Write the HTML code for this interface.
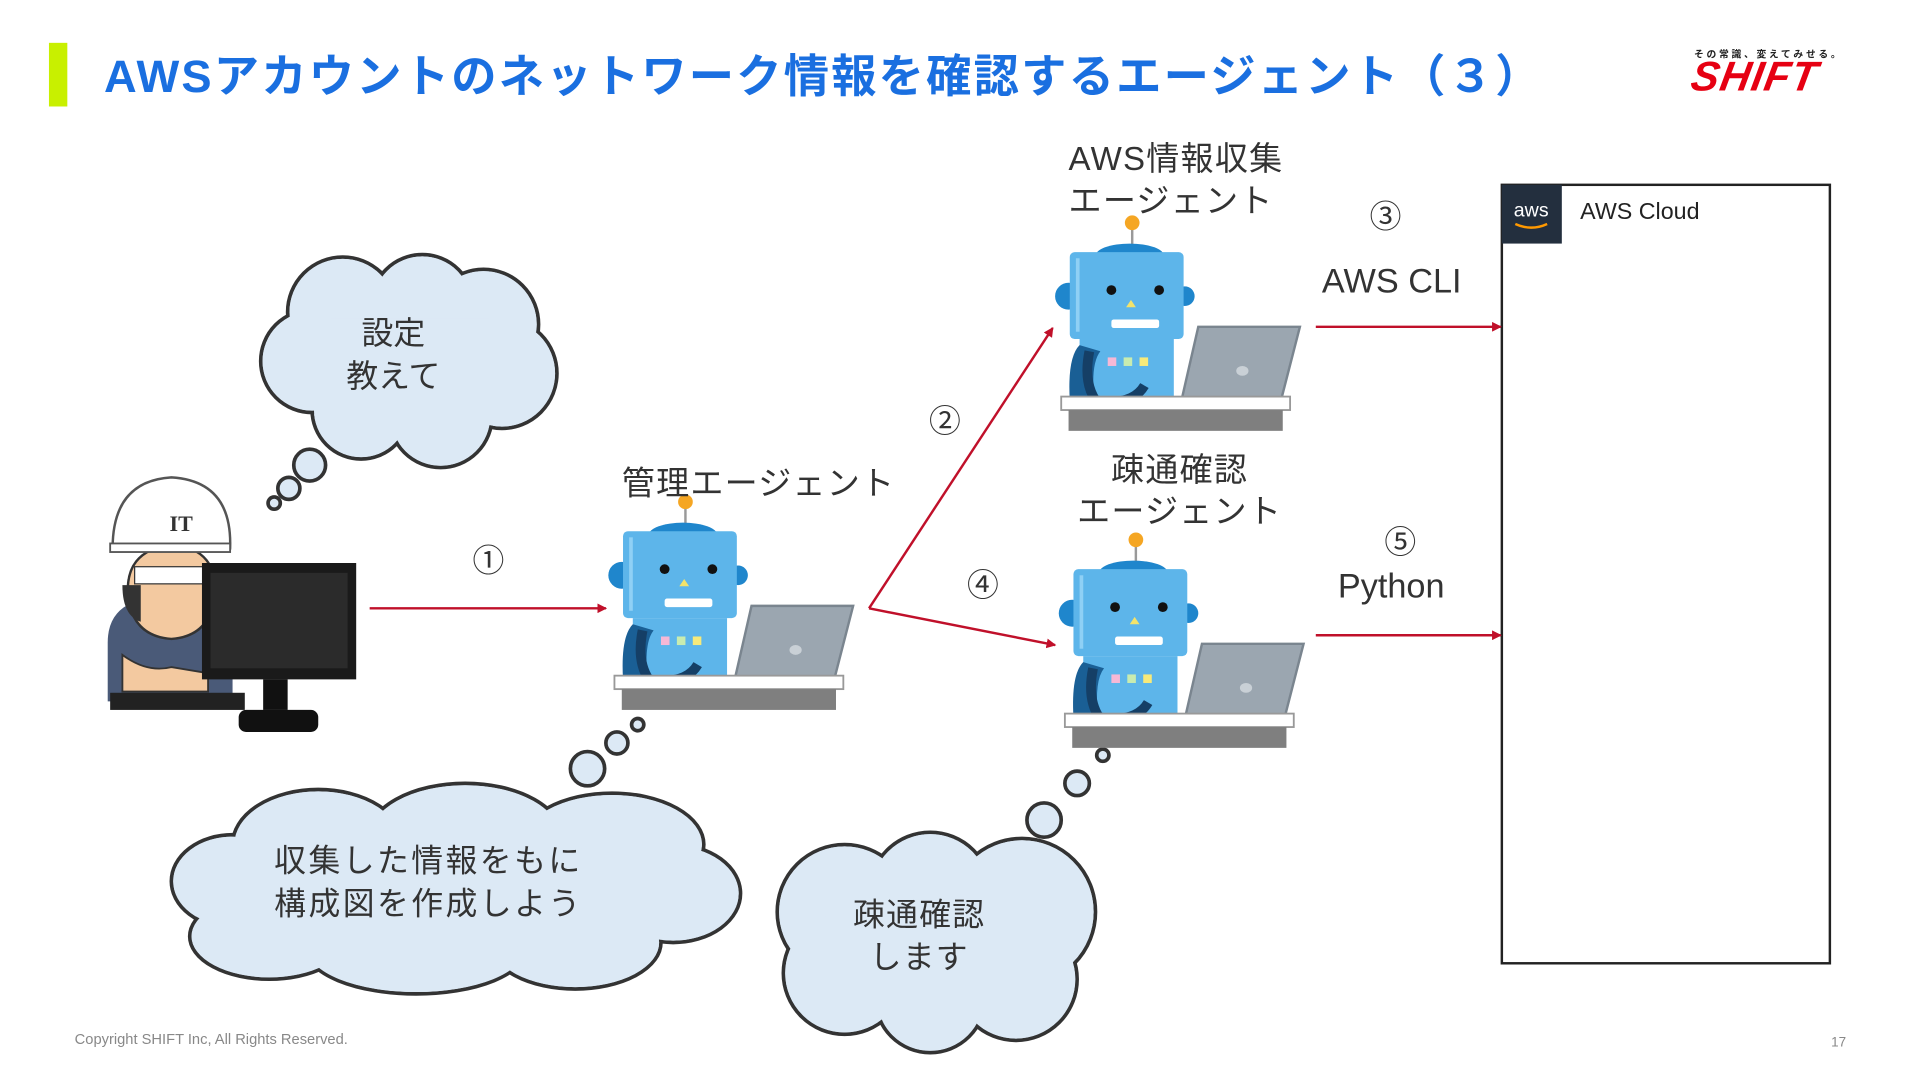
<!DOCTYPE html>
<html><head><meta charset="utf-8"><style>
html,body{margin:0;padding:0;background:#fff;width:1920px;height:1080px;overflow:hidden}
#s{position:absolute;left:0;top:0;width:1568px;height:882px;transform:scale(1.224);transform-origin:0 0;font-family:"Liberation Sans","Noto Sans CJK JP",sans-serif}
.t{position:absolute;white-space:nowrap;color:#333}
</style></head><body><div id="s">
<svg width="1568" height="882" style="position:absolute;left:0;top:0">
<defs>
<marker id="ar" markerWidth="8" markerHeight="8" refX="7" refY="4" orient="auto" markerUnits="userSpaceOnUse"><path d="M0,0 L8,4 L0,8 Z" fill="#c0102a"/></marker>
<g id="robot">
<line x1="60" y1="6" x2="60" y2="30" stroke="#999" stroke-width="2"/>
<circle cx="60" cy="5" r="6" fill="#f5a623"/>
<ellipse cx="58" cy="32" rx="28" ry="10" fill="#1f86cc"/>
<circle cx="8" cy="65" r="11" fill="#1f86cc"/>
<circle cx="103" cy="65" r="8" fill="#1f86cc"/>
<path d="M17,100 h77 v53 h-77 z" fill="#5db5ea"/>
<path d="M17,105 q-10,10 -8,45 h20 q-3,-30 5,-40 z" fill="#1a5f95"/>
<path d="M25,110 q-5,25 5,40 q30,5 40,-12" stroke="#153f66" stroke-width="8" fill="none"/>
<rect x="9" y="29" width="93" height="71" rx="4" fill="#5db5ea"/>
<rect x="14" y="34" width="3" height="60" fill="#8fd0f5"/>
<circle cx="43" cy="60" r="4" fill="#111"/><circle cx="82" cy="60" r="4" fill="#111"/>
<path d="M59,68 l4,6 h-8 z" fill="#f3e36a"/>
<rect x="43" y="84" width="39" height="7" rx="2" fill="#fff"/>
<rect x="40" y="115" width="7" height="7" fill="#f6b8d6"/><rect x="53" y="115" width="7" height="7" fill="#c8ecb0"/><rect x="66" y="115" width="7" height="7" fill="#f7ea7a"/>
<path d="M114,90 L197,90 L179,160 L98,160 Z" fill="#9ba6b0" stroke="#7a858f" stroke-width="2"/>
<ellipse cx="150" cy="126" rx="5" ry="4" fill="#c9d0d6"/>
<rect x="2" y="147" width="187" height="11" fill="#fff" stroke="#999" stroke-width="1.5"/>
<rect x="8" y="158" width="175" height="17" fill="#7f7f7f"/>
</g>
</defs>
<rect x="40" y="35" width="15" height="52" fill="#c8f000"/>
<rect x="1227" y="151" width="268" height="636" fill="#fff" stroke="#222" stroke-width="2"/>
<rect x="1227" y="151" width="49" height="48" fill="#232f3e"/>
<text x="1251" y="177" fill="#fff" font-family="Liberation Sans" font-size="16" text-anchor="middle">aws</text>
<path d="M1238,183 q13,6 26,0" stroke="#f90" stroke-width="2" fill="none"/>
<g stroke="#c0102a" stroke-width="2" fill="none" marker-end="url(#ar)">
<line x1="302" y1="497" x2="495" y2="497"/>
<line x1="710" y1="497" x2="860" y2="268"/>
<line x1="710" y1="497" x2="862" y2="527"/>
<line x1="1075" y1="267" x2="1226" y2="267"/>
<line x1="1075" y1="519" x2="1226" y2="519"/>
</g>
<g stroke="#333" stroke-width="3" fill="#dce9f5">
<circle cx="280" cy="255" r="45"/><circle cx="345" cy="250" r="42"/><circle cx="395" cy="265" r="45"/><circle cx="410" cy="305" r="45"/><circle cx="360" cy="340" r="42"/><circle cx="295" cy="335" r="40"/><circle cx="255" cy="295" r="42"/>
<circle cx="253" cy="380" r="13"/><circle cx="236" cy="399" r="9"/><circle cx="224" cy="411" r="5"/>
<circle cx="480" cy="628" r="14"/><circle cx="504" cy="607" r="9"/><circle cx="521" cy="592" r="5"/>
<circle cx="853" cy="670" r="14"/><circle cx="880" cy="640" r="10"/><circle cx="901" cy="617" r="5"/>
<ellipse cx="190" cy="720" rx="50" ry="38"/><ellipse cx="260" cy="690" rx="70" ry="45"/><ellipse cx="380" cy="685" rx="80" ry="45"/><ellipse cx="500" cy="690" rx="75" ry="42"/><ellipse cx="550" cy="730" rx="55" ry="40"/><ellipse cx="470" cy="770" rx="70" ry="38"/><ellipse cx="340" cy="775" rx="90" ry="37"/><ellipse cx="220" cy="765" rx="65" ry="35"/>
<circle cx="690" cy="745" r="55"/><circle cx="760" cy="730" r="50"/><circle cx="835" cy="745" r="60"/><circle cx="830" cy="800" r="50"/><circle cx="760" cy="815" r="45"/><circle cx="690" cy="795" r="50"/>
</g>
<g fill="#dce9f5">
<circle cx="280" cy="255" r="43.5"/><circle cx="345" cy="250" r="40.5"/><circle cx="395" cy="265" r="43.5"/><circle cx="410" cy="305" r="43.5"/><circle cx="360" cy="340" r="40.5"/><circle cx="295" cy="335" r="38.5"/><circle cx="255" cy="295" r="40.5"/><rect x="270" y="260" width="130" height="80"/>
<ellipse cx="190" cy="720" rx="48.5" ry="36.5"/><ellipse cx="260" cy="690" rx="68.5" ry="43.5"/><ellipse cx="380" cy="685" rx="78.5" ry="43.5"/><ellipse cx="500" cy="690" rx="73.5" ry="40.5"/><ellipse cx="550" cy="730" rx="53.5" ry="38.5"/><ellipse cx="470" cy="770" rx="68.5" ry="36.5"/><ellipse cx="340" cy="775" rx="88.5" ry="35.5"/><ellipse cx="220" cy="765" rx="63.5" ry="33.5"/><ellipse cx="370" cy="730" rx="180" ry="45"/>
<circle cx="690" cy="745" r="53.5"/><circle cx="760" cy="730" r="48.5"/><circle cx="835" cy="745" r="58.5"/><circle cx="830" cy="800" r="48.5"/><circle cx="760" cy="815" r="43.5"/><circle cx="690" cy="795" r="48.5"/><rect x="700" y="740" width="130" height="70"/>
</g>
<use href="#robot" transform="translate(500,405)"/>
<use href="#robot" transform="translate(865,177)"/>
<use href="#robot" transform="translate(868,436)"/>
<g>
<path d="M88,525 q0,-35 42,-37 h30 q30,5 30,35 v50 h-102 z" fill="#4a5a78"/>
<path d="M105,490 q-5,-40 35,-45 q40,3 35,45 q-5,30 -35,32 q-30,-2 -35,-32z" fill="#f3c9a0" stroke="#333" stroke-width="2"/>
<path d="M100,478 q0,25 15,30 v-30z" fill="#333"/>
<rect x="110" y="463" width="60" height="14" fill="#fff" stroke="#333"/>
<path d="M92,448 q0,-55 48,-58 q50,3 48,58 z" fill="#fff" stroke="#555" stroke-width="2"/>
<rect x="90" y="444" width="98" height="7" fill="#fff" stroke="#555" stroke-width="1.5"/>
<text x="148" y="434" font-family="Liberation Serif" font-weight="bold" font-size="18" fill="#333" text-anchor="middle">IT</text>
<path d="M100,535 q20,15 40,10 l30,5 v15 h-70z" fill="#f3c9a0" stroke="#333" stroke-width="1.5"/>
<path d="M165,460 h126 v95 h-126 z" fill="#1a1a1a"/><rect x="172" y="468" width="112" height="78" fill="#2b2b2b"/>
<rect x="215" y="555" width="20" height="25" fill="#111"/><rect x="195" y="580" width="65" height="18" rx="6" fill="#111"/>
<rect x="90" y="566" width="110" height="14" fill="#222"/>
</g>
</svg>
<div class="t" style="left:85px;top:32px;font-size:37px;font-weight:bold;color:#1a6fe0;letter-spacing:1.8px">AWSアカウントのネットワーク情報を確認するエージェント（３）</div>
<div class="t" style="left:1384px;top:39px;font-size:8px;font-weight:bold;color:#222;letter-spacing:2.2px">その常識、変えてみせる。</div>
<div class="t" style="left:1382px;top:44px;font-size:34px;font-weight:bold;font-style:italic;color:#e60012;transform:skewX(-10deg);letter-spacing:1px">SHIFT</div>
<div class="t" style="left:1291px;top:163px;font-size:19px;color:#222">AWS Cloud</div>
<div class="t" style="left:386px;top:438px;font-size:26px">①</div>
<div class="t" style="left:759px;top:324px;font-size:26px">②</div>
<div class="t" style="left:1119px;top:157px;font-size:26px">③</div>
<div class="t" style="left:790px;top:458px;font-size:26px">④</div>
<div class="t" style="left:1131px;top:423px;font-size:26px">⑤</div>
<div class="t" style="left:1080px;top:214px;font-size:28px">AWS CLI</div>
<div class="t" style="left:1093px;top:463px;font-size:28px">Python</div>
<div class="t" style="left:508px;top:373px;font-size:27px;letter-spacing:1px">管理エージェント</div>
<div class="t" style="left:873px;top:113px;font-size:27px;line-height:34px;letter-spacing:1px">AWS情報収集<br>エージェント</div>
<div class="t" style="left:880px;top:367px;font-size:27px;line-height:34px;letter-spacing:1px;text-align:center">疎通確認<br>エージェント</div>
<div class="t" style="left:283px;top:255px;font-size:26px;line-height:35px;text-align:center">設定<br>教えて</div>
<div class="t" style="left:224px;top:686px;font-size:26px;line-height:35px;letter-spacing:2px">収集した情報をもに<br>構成図を作成しよう</div>
<div class="t" style="left:697px;top:730px;font-size:26px;line-height:35px;text-align:center;letter-spacing:1px">疎通確認<br>します</div>
<div class="t" style="left:61px;top:842px;font-size:12px;color:#888">Copyright SHIFT Inc, All Rights Reserved.</div>
<div class="t" style="left:1496px;top:846px;font-size:11px;color:#888">17</div>
</div></body></html>
